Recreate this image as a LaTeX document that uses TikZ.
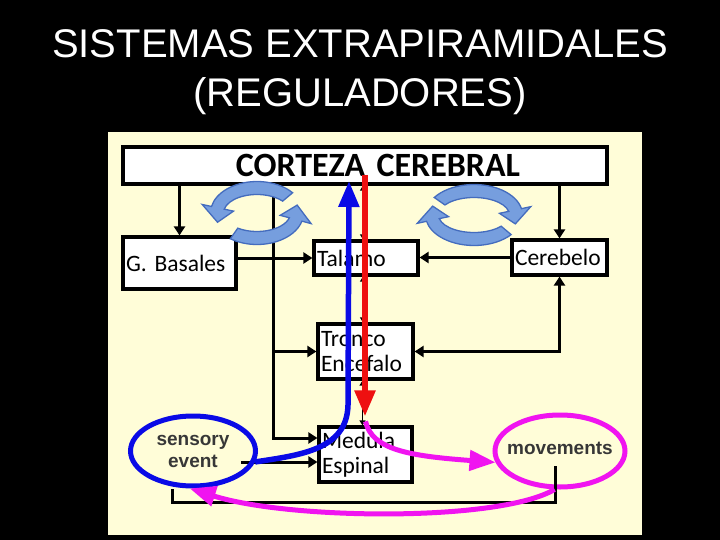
\documentclass[tikz,border=0pt]{standalone}
\usepackage{fontspec}
\setmainfont{Liberation Sans}
\newfontfamily\carlito{Carlito}
\usetikzlibrary{arrows.meta,shapes.geometric}
\definecolor{panel}{RGB}{255,253,216}
\definecolor{swirlfill}{RGB}{118,158,222}
\definecolor{swirlline}{RGB}{68,108,190}
\definecolor{pinkline}{RGB}{240,20,240}
\definecolor{blueline}{RGB}{10,10,230}
\definecolor{redline}{RGB}{238,16,16}
\definecolor{ovaltext}{RGB}{55,55,55}

% curved block arrow: center, x radius, y radius, from, to, tip angle
\newcommand{\swirl}[6]{%
  \fill[swirl,shift={#1},yscale=-1]
    ({(#2+6.5)*cos(#4)},{(#3+6.5)*sin(#4)})
    arc[start angle=#4,end angle=#5,x radius={#2+6.5},y radius={#3+6.5}]
    -- ({(#2+16)*cos(#5)},{(#3+16)*sin(#5)})
    -- ({(#2+2)*cos(#6)},{(#3+2)*sin(#6)})
    -- ({(#2-16)*cos(#5)},{(#3-16)*sin(#5)})
    -- ({(#2-6.5)*cos(#5)},{(#3-6.5)*sin(#5)})
    arc[start angle=#5,end angle=#4,x radius={#2-6.5},y radius={#3-6.5}]
    -- cycle;}

\begin{document}
\begin{tikzpicture}[x=1pt,y=-1pt,
    box/.style={draw,line width=3.2pt,fill=white,inner sep=3pt,align=left,
      font=\carlito\fontsize{23.5}{25}\selectfont},
    link/.style={line width=3pt,-{Triangle[length=9pt,width=11pt]}},
    both link/.style={line width=3pt,{Triangle[length=9pt,width=11pt]}-{Triangle[length=9pt,width=11pt]}},
    small link/.style={line width=1.4pt,{Triangle[length=5pt,width=6pt]}-{Triangle[length=5pt,width=6pt]}},
    oval/.style={ellipse,line width=5pt,inner sep=0pt},
    ovaltxt/.style={text=ovaltext,align=center,font=\bfseries\fontsize{19}{22}\selectfont},
    signal/.style={line width=5.5pt,-{Triangle[length=26pt,width=20pt]}},
    swirl/.style={fill=swirlfill,draw=swirlline,line width=1.3pt}]

    % page and panel
    \fill[black] (0,0) rectangle (720,540);
    \fill[panel] (108,132) rectangle (642,535);

    \node[text=white,font=\fontsize{40}{47}\selectfont,anchor=base] (title1) at (360,58) {SISTEMAS EXTRAPIRAMIDALES};
    \node[text=white,font=\fontsize{40}{47}\selectfont,anchor=base] (title2) at (360,107) {(REGULADORES)};

    % boxes
    \node[box,text width=478pt,minimum height=37pt,align=center,
      font=\carlito\bfseries\fontsize{34}{35}\selectfont] (corteza) at (365,165.5) {\hspace*{26pt}CORTEZA CEREBRAL};
    \node[box,text width=107pt,minimum height=52pt] (basales) at (179.5,263) {G. Basales};
    \node[box,text width=98pt,minimum height=34pt] (talamo) at (366,258) {Talamo};
    \node[box,text width=89pt,minimum height=35pt] (cerebelo) at (559.5,257.5) {Cerebelo};
    \node[box,text width=89pt,minimum height=55pt] (tronco) at (365.5,351.5) {Tronco\\Encefalo};
    \node[box,text width=87pt,minimum height=55pt] (medula) at (365.5,454.5) {Medula\\Espinal};

    \coordinate (trunktop) at (273,184);
    \coordinate (trunkbot) at (273,438);
    \coordinate (sensout) at (241,462);
    \coordinate (fbtop) at (555,466);
    \coordinate (fbbot) at (172,502);

    % black connectors
    \draw[link] (corteza.south -| basales.north) -- (basales.north);
    \draw[link] (corteza.south -| cerebelo.north) -- (cerebelo.north);
    \draw[small link] ([xshift=-3pt]corteza.south -| talamo.north) -- ([xshift=-3pt]talamo.north);
    \draw[small link] ([xshift=-3pt]talamo.south) -- ([xshift=-3pt]talamo.south |- tronco.north);
    \draw[small link] ([xshift=-3pt]tronco.south) -- ([xshift=-3pt]tronco.south |- medula.north);
    \draw[link] (basales.east |- talamo.west) -- (talamo.west);
    \draw[link] (cerebelo.west) -- (cerebelo.west -| talamo.east);
    \draw[link] (trunktop) -- (trunkbot) -- (trunkbot -| medula.west);
    \draw[link] (trunktop |- tronco.west) -- (tronco.west);
    \draw[both link] (tronco.east) -| (cerebelo.south);
    \draw[link] (sensout) -- (sensout -| medula.west);

    % loops
    \swirl{(257,213)}{40}{25}{40}{168}{200}
    \swirl{(257,213)}{40}{25}{235}{345}{377}
    \swirl{(474,215)}{42}{24}{145}{12}{-20}
    \swirl{(474,215)}{42}{24}{-40}{-168}{-200}

    % ovals
    \node[oval,draw=blueline,minimum width=125pt,minimum height=70pt,
      label={[ovaltxt]center:sensory\\event}] (sensory) at (193,451) {};
    \node[oval,draw=pinkline,minimum width=130pt,minimum height=72pt,
      label={[ovaltxt,yshift=3pt]center:movements}] (movements) at (560,451) {};
    \draw[line width=3pt] (fbtop) |- (fbbot) -- (fbbot |- sensory.south);

    \coordinate (redtop) at (365,175);
    \coordinate (bluetop) at (349,181);

    % coloured paths
    \draw[signal,redline,shorten >=9pt] (redtop) -- (redtop |- medula.north);
    \draw[signal,blueline] (sensory.-10) .. controls (300,455) and (347,450) .. (348,405) -- (bluetop);
    \draw[signal,pinkline,line width=5pt] ([yshift=4pt]medula.north) .. controls (372,450) and (410,456) .. (movements.190);
    \draw[signal,pinkline,line width=5pt] (movements.-98) .. controls (500,522) and (290,520) .. (sensory.-95);
\end{tikzpicture}
\end{document}
